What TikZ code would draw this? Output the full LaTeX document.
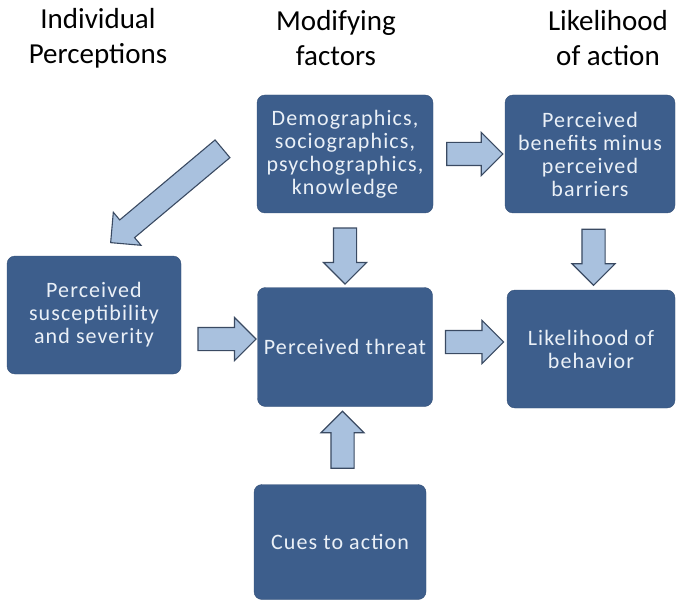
\documentclass[tikz,border=0pt]{standalone}
\usepackage{fontspec}
\setmainfont{Carlito}
\newfontfamily\boxfont[LetterSpace=5]{Carlito}
\usetikzlibrary{shapes.arrows,calc}
\definecolor{boxblue}{HTML}{3D5E8C}
\definecolor{arrfill}{HTML}{A9C1DE}
\definecolor{arrline}{HTML}{3A4A62}
\definecolor{boxtext}{HTML}{EAF0F7}
\tikzset{
  box/.style={draw=boxblue!85!black, fill=boxblue, rounded corners=8pt, text=boxtext,
    align=center, font=\boxfont\fontsize{22}{23}\selectfont, inner sep=2pt},
  hdr/.style={align=center, font=\fontsize{29}{35}\selectfont, text=black},
  blockarrow/.style={single arrow, draw=arrline, fill=arrfill, line width=1.1pt,
    inner sep=11pt, single arrow head extend=10pt, minimum height=#1}
}
\begin{document}
\begin{tikzpicture}[x=1pt,y=-1pt]
\useasboundingbox (0,0) rectangle (677,604);
\node[hdr] (h1) at (98,38) {Individual\\Perceptions};
\node[hdr] (h2) at (336,38) {Modifying\\factors};
\node[hdr] (h3) at (608,38) {Likelihood\\of action};

\node[box, minimum width=176pt, minimum height=118pt] (demo) at (345,154) {Demographics,\\sociographics,\\psychographics,\\knowledge};
\node[box, minimum width=170pt, minimum height=118pt] (ben) at (590,154) {Perceived\\benefits minus\\perceived\\barriers};
\node[box, minimum width=174pt, minimum height=118pt] (sus) at (94,315) {Perceived\\susceptibility\\and severity};
\node[box, minimum width=175pt, minimum height=119pt] (threat) at (345,347) {Perceived threat};
\node[box, minimum width=168pt, minimum height=118pt] (like) at (591,349) {Likelihood of\\behavior};
\node[box, minimum width=172pt, minimum height=115pt] (cues) at (340,542) {Cues to action};

\node[blockarrow=56pt] (a1) at ($(demo.east)!0.5!(ben.west)$) {};
\node[blockarrow=56pt, rotate=-90] (a2) at ($(demo.south)!0.5!(threat.north)$) {};
\node[blockarrow=56pt, rotate=-90] (a3) at ($(ben.south)!0.5!(like.north)+(3,0)$) {};
\node[blockarrow=58pt] (a4) at ($(sus.east)!0.5!(threat.west)+(2,8)$) {};
\node[blockarrow=58pt] (a5) at ($(threat.east)!0.5!(like.west)+(-1,-6)$) {};
\node[blockarrow=57pt, rotate=90] (a6) at ($(cues.north)!0.5!(threat.south)$) {};
\node[blockarrow=146pt, rotate=220] (a7) at (171,192) {};
\end{tikzpicture}
\end{document}
